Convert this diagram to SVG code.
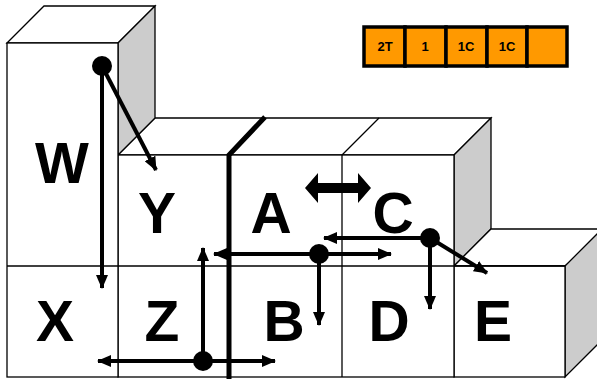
<svg xmlns="http://www.w3.org/2000/svg" width="597" height="379" viewBox="0 0 597 379">
<defs>
<style>
.face{fill:#fff;stroke:#000;stroke-width:1.3}
.side{fill:#ccc;stroke:#000;stroke-width:1.3}
.ln{fill:none;stroke:#000;stroke-width:1.3}
.lbl{font-family:"Liberation Sans",Arial,sans-serif;font-weight:bold;font-size:57px;text-anchor:middle;fill:#000}
.con{fill:none;stroke:#000;stroke-width:4}
.dot{fill:#000}
.cell{fill:#ff9900;stroke:#000;stroke-width:3.5}
.ct{font-family:"Liberation Sans",Arial,sans-serif;font-weight:bold;font-size:13px;text-anchor:middle;fill:#000}
</style>
<marker id="ah" viewBox="0 0 14 12" refX="13" refY="6" markerWidth="14" markerHeight="12" markerUnits="userSpaceOnUse" orient="auto-start-reverse">
<path d="M0,0 L14,6 L0,12 Z" fill="#000"/>
</marker>
</defs>
<g id="blocks">
<polygon class="face" points="118,155 155,118 491,118 454,155"/>
<polygon class="side" points="454,155 491,118 491,229 454,266"/>
<polygon class="face" points="454,266 491,229 610,229 565,266"/>
<polygon class="side" points="565,266 602,229 602,340 565,377"/>
<rect class="face" x="454" y="266" width="111" height="111"/>
<rect class="face" x="118" y="155" width="336" height="222"/>
<polygon class="face" points="7,43 44,6 155,6 118,43"/>
<polygon class="side" points="118,43 155,6 155,118 118,155"/>
<rect class="face" x="7" y="43" width="111" height="334"/>
<line class="ln" x1="7" y1="266" x2="565" y2="266"/>
<line class="ln" x1="342" y1="155" x2="342" y2="377"/>
<line class="ln" x1="342" y1="155" x2="379" y2="118"/>
</g>
<g id="W"><text class="lbl" x="62" y="183">W</text></g>
<g id="Y"><text class="lbl" x="157" y="233">Y</text></g>
<g id="A"><text class="lbl" x="271" y="233">A</text></g>
<g id="C"><text class="lbl" x="393" y="233">C</text></g>
<g id="X"><text class="lbl" x="55" y="341">X</text></g>
<g id="Z"><text class="lbl" x="162" y="341">Z</text></g>
<g id="B"><text class="lbl" x="284" y="341">B</text></g>
<g id="D"><text class="lbl" x="389" y="341">D</text></g>
<g id="E"><text class="lbl" x="493" y="341">E</text></g>
<g id="legend">
<rect class="cell" x="364" y="27" width="41" height="39"/>
<rect class="cell" x="405" y="27" width="41" height="39"/>
<rect class="cell" x="446" y="27" width="41" height="39"/>
<rect class="cell" x="487" y="27" width="40" height="39"/>
<rect class="cell" x="527" y="27" width="40" height="39"/>
<text class="ct" x="385" y="51">2T</text>
<text class="ct" x="425" y="51">1</text>
<text class="ct" x="466" y="51">1C</text>
<text class="ct" x="507" y="51">1C</text>
</g>
<g id="connectors">
<polyline fill="none" stroke="#000" stroke-width="5" points="229,379 229,155 265,117"/>
<line class="con" x1="102" y1="66" x2="102" y2="288" marker-end="url(#ah)"/>
<line class="con" x1="102" y1="66" x2="156" y2="170" marker-end="url(#ah)"/>
<circle class="dot" cx="102" cy="66" r="10"/>
<line class="con" x1="98" y1="361" x2="275" y2="361" marker-start="url(#ah)" marker-end="url(#ah)"/>
<line class="con" x1="203" y1="361" x2="203" y2="248" marker-end="url(#ah)"/>
<circle class="dot" cx="203" cy="361" r="10"/>
<line class="con" x1="214" y1="254" x2="391" y2="254" marker-start="url(#ah)" marker-end="url(#ah)"/>
<line class="con" x1="319" y1="254" x2="319" y2="325" marker-end="url(#ah)"/>
<circle class="dot" cx="319" cy="254" r="10"/>
<line class="con" x1="430" y1="238" x2="324" y2="238" marker-end="url(#ah)"/>
<line class="con" x1="430" y1="238" x2="430" y2="309" marker-end="url(#ah)"/>
<line class="con" x1="430" y1="238" x2="487" y2="273" marker-end="url(#ah)"/>
<circle class="dot" cx="430" cy="238" r="10"/>
<polygon fill="#000" points="305,188 318,173 318,183 358,183 358,173 371,188 358,203 358,193 318,193 318,203"/>
</g>
</svg>
